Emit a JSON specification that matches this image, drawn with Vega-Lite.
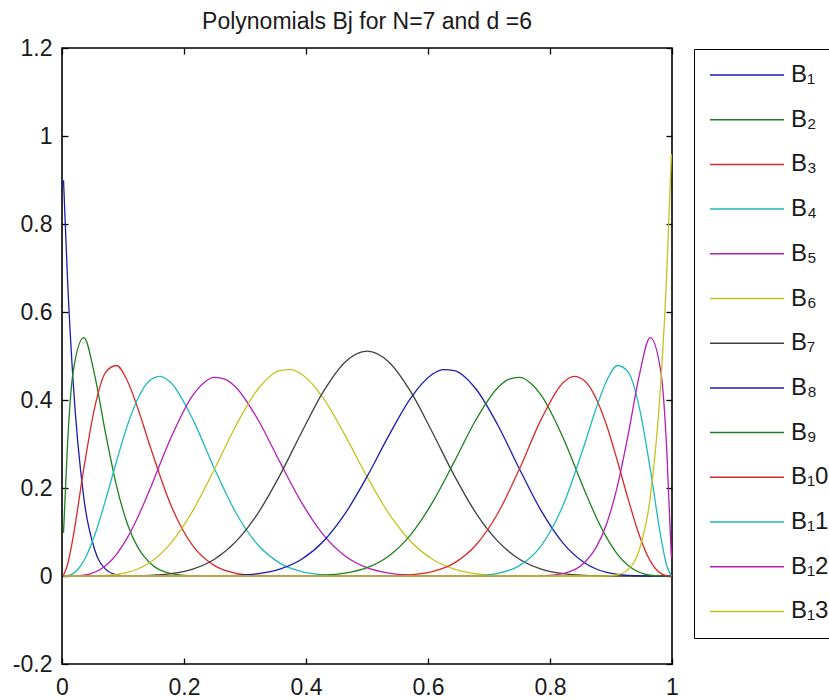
{
  "$schema": "https://vega.github.io/schema/vega-lite/v6.json",
  "width": 610,
  "height": 616,
  "autosize": {"type": "none"},
  "padding": {"left": 62, "top": 48, "right": 157, "bottom": 36},
  "background": "white",
  "title": {"text": "Polynomials Bj for N=7 and d =6", "font": "Liberation Sans", "fontSize": 23, "fontWeight": "normal", "color": "#1a1a1a", "anchor": "middle", "frame": "group", "baseline": "alphabetic", "offset": 8, "dy": 23},
  "config": {"view": {"stroke": "black", "strokeWidth": 1.6}},
  "data": {"values": [
    {"series":"B₁","x":0.0025,"y":0.8995},{"series":"B₁","x":0.0089,"y":0.6789},{"series":"B₁","x":0.0179,"y":0.4488},{"series":"B₁","x":0.0357,"y":0.178},{"series":"B₁","x":0.0536,"y":0.0596},{"series":"B₁","x":0.0714,"y":0.0156},{"series":"B₁","x":0.0893,"y":0.0028},{"series":"B₁","x":0.1071,"y":0.0002},{"series":"B₁","x":0.125,"y":0},{"series":"B₁","x":0.999,"y":0},
    {"series":"B₂","x":0.0025,"y":0.0983},{"series":"B₂","x":0.0089,"y":0.2952},{"series":"B₂","x":0.0179,"y":0.4603},{"series":"B₂","x":0.0357,"y":0.5416},{"series":"B₂","x":0.0536,"y":0.4562},{"series":"B₂","x":0.0714,"y":0.3247},{"series":"B₂","x":0.0893,"y":0.2056},{"series":"B₂","x":0.1071,"y":0.1187},{"series":"B₂","x":0.125,"y":0.0633},{"series":"B₂","x":0.1429,"y":0.0313},{"series":"B₂","x":0.1786,"y":0.0056},{"series":"B₂","x":0.2143,"y":0.0005},{"series":"B₂","x":0.25,"y":0},{"series":"B₂","x":0.999,"y":0},
    {"series":"B₃","x":0.0025,"y":0.0022},{"series":"B₃","x":0.0089,"y":0.0251},{"series":"B₃","x":0.0179,"y":0.0855},{"series":"B₃","x":0.0357,"y":0.244},{"series":"B₃","x":0.0536,"y":0.3828},{"series":"B₃","x":0.0714,"y":0.4626},{"series":"B₃","x":0.0893,"y":0.4784},{"series":"B₃","x":0.1071,"y":0.4436},{"series":"B₃","x":0.125,"y":0.3783},{"series":"B₃","x":0.1429,"y":0.3013},{"series":"B₃","x":0.1786,"y":0.1606},{"series":"B₃","x":0.2143,"y":0.0688},{"series":"B₃","x":0.25,"y":0.0235},{"series":"B₃","x":0.2857,"y":0.0062},{"series":"B₃","x":0.3214,"y":0.0011},{"series":"B₃","x":0.3571,"y":0.0001},{"series":"B₃","x":0.3929,"y":0},{"series":"B₃","x":0.999,"y":0},
    {"series":"B₄","x":0.0025,"y":0},{"series":"B₄","x":0.0089,"y":0.0007},{"series":"B₄","x":0.0179,"y":0.0053},{"series":"B₄","x":0.0357,"y":0.0344},{"series":"B₄","x":0.0536,"y":0.0926},{"series":"B₄","x":0.0714,"y":0.1724},{"series":"B₄","x":0.0893,"y":0.2603},{"series":"B₄","x":0.1071,"y":0.3419},{"series":"B₄","x":0.125,"y":0.4052},{"series":"B₄","x":0.1429,"y":0.4432},{"series":"B₄","x":0.1607,"y":0.4538},{"series":"B₄","x":0.1786,"y":0.4394},{"series":"B₄","x":0.2143,"y":0.3565},{"series":"B₄","x":0.25,"y":0.2437},{"series":"B₄","x":0.2857,"y":0.142},{"series":"B₄","x":0.3214,"y":0.0704},{"series":"B₄","x":0.3571,"y":0.0293},{"series":"B₄","x":0.3929,"y":0.0099},{"series":"B₄","x":0.4286,"y":0.0026},{"series":"B₄","x":0.4643,"y":0.0005},{"series":"B₄","x":0.5,"y":0},{"series":"B₄","x":0.999,"y":0},
    {"series":"B₅","x":0.0025,"y":0},{"series":"B₅","x":0.0179,"y":0.0001},{"series":"B₅","x":0.0357,"y":0.0017},{"series":"B₅","x":0.0536,"y":0.0085},{"series":"B₅","x":0.0714,"y":0.0234},{"series":"B₅","x":0.0893,"y":0.0492},{"series":"B₅","x":0.1071,"y":0.0871},{"series":"B₅","x":0.125,"y":0.136},{"series":"B₅","x":0.1429,"y":0.1933},{"series":"B₅","x":0.1786,"y":0.3144},{"series":"B₅","x":0.2143,"y":0.4106},{"series":"B₅","x":0.2321,"y":0.4389},{"series":"B₅","x":0.25,"y":0.4512},{"series":"B₅","x":0.2679,"y":0.4471},{"series":"B₅","x":0.2857,"y":0.428},{"series":"B₅","x":0.3214,"y":0.3551},{"series":"B₅","x":0.3571,"y":0.2593},{"series":"B₅","x":0.3929,"y":0.1666},{"series":"B₅","x":0.4286,"y":0.0936},{"series":"B₅","x":0.4643,"y":0.0456},{"series":"B₅","x":0.5,"y":0.0188},{"series":"B₅","x":0.5357,"y":0.0064},{"series":"B₅","x":0.5714,"y":0.0017},{"series":"B₅","x":0.6071,"y":0.0003},{"series":"B₅","x":0.6429,"y":0},{"series":"B₅","x":0.999,"y":0},
    {"series":"B₆","x":0.0025,"y":0},{"series":"B₆","x":0.0357,"y":0},{"series":"B₆","x":0.0536,"y":0.0003},{"series":"B₆","x":0.0714,"y":0.0012},{"series":"B₆","x":0.0893,"y":0.0036},{"series":"B₆","x":0.1071,"y":0.0082},{"series":"B₆","x":0.125,"y":0.0165},{"series":"B₆","x":0.1429,"y":0.0296},{"series":"B₆","x":0.1786,"y":0.0747},{"series":"B₆","x":0.2143,"y":0.1479},{"series":"B₆","x":0.25,"y":0.2431},{"series":"B₆","x":0.2857,"y":0.3433},{"series":"B₆","x":0.3214,"y":0.425},{"series":"B₆","x":0.3571,"y":0.4668},{"series":"B₆","x":0.375,"y":0.469},{"series":"B₆","x":0.3929,"y":0.4584},{"series":"B₆","x":0.4286,"y":0.4038},{"series":"B₆","x":0.4643,"y":0.319},{"series":"B₆","x":0.5,"y":0.2257},{"series":"B₆","x":0.5357,"y":0.1421},{"series":"B₆","x":0.5714,"y":0.0789},{"series":"B₆","x":0.6071,"y":0.0381},{"series":"B₆","x":0.6429,"y":0.0157},{"series":"B₆","x":0.6786,"y":0.0053},{"series":"B₆","x":0.7143,"y":0.0014},{"series":"B₆","x":0.75,"y":0.0002},{"series":"B₆","x":0.7857,"y":0},{"series":"B₆","x":0.999,"y":0},
    {"series":"B₇","x":0.0025,"y":0},{"series":"B₇","x":0.0714,"y":0},{"series":"B₇","x":0.0893,"y":0.0001},{"series":"B₇","x":0.1071,"y":0.0002},{"series":"B₇","x":0.125,"y":0.0006},{"series":"B₇","x":0.1429,"y":0.0014},{"series":"B₇","x":0.1786,"y":0.0053},{"series":"B₇","x":0.2143,"y":0.0157},{"series":"B₇","x":0.25,"y":0.0382},{"series":"B₇","x":0.2857,"y":0.0792},{"series":"B₇","x":0.3214,"y":0.1431},{"series":"B₇","x":0.3571,"y":0.2288},{"series":"B₇","x":0.3929,"y":0.3266},{"series":"B₇","x":0.4286,"y":0.4194},{"series":"B₇","x":0.4643,"y":0.4865},{"series":"B₇","x":0.5,"y":0.511},{"series":"B₇","x":0.5357,"y":0.4865},{"series":"B₇","x":0.5714,"y":0.4194},{"series":"B₇","x":0.6071,"y":0.3266},{"series":"B₇","x":0.6429,"y":0.2288},{"series":"B₇","x":0.6786,"y":0.1431},{"series":"B₇","x":0.7143,"y":0.0792},{"series":"B₇","x":0.75,"y":0.0382},{"series":"B₇","x":0.7857,"y":0.0157},{"series":"B₇","x":0.8214,"y":0.0053},{"series":"B₇","x":0.8571,"y":0.0014},{"series":"B₇","x":0.875,"y":0.0006},{"series":"B₇","x":0.8929,"y":0.0002},{"series":"B₇","x":0.9107,"y":0.0001},{"series":"B₇","x":0.9286,"y":0},{"series":"B₇","x":0.999,"y":0},
    {"series":"B₈","x":0.0025,"y":0},{"series":"B₈","x":0.2143,"y":0},{"series":"B₈","x":0.25,"y":0.0002},{"series":"B₈","x":0.2857,"y":0.0014},{"series":"B₈","x":0.3214,"y":0.0053},{"series":"B₈","x":0.3571,"y":0.0157},{"series":"B₈","x":0.3929,"y":0.0381},{"series":"B₈","x":0.4286,"y":0.0789},{"series":"B₈","x":0.4643,"y":0.1421},{"series":"B₈","x":0.5,"y":0.2257},{"series":"B₈","x":0.5357,"y":0.319},{"series":"B₈","x":0.5714,"y":0.4038},{"series":"B₈","x":0.6071,"y":0.4584},{"series":"B₈","x":0.625,"y":0.469},{"series":"B₈","x":0.6429,"y":0.4668},{"series":"B₈","x":0.6786,"y":0.425},{"series":"B₈","x":0.7143,"y":0.3433},{"series":"B₈","x":0.75,"y":0.2431},{"series":"B₈","x":0.7857,"y":0.1479},{"series":"B₈","x":0.8214,"y":0.0747},{"series":"B₈","x":0.8571,"y":0.0296},{"series":"B₈","x":0.875,"y":0.0165},{"series":"B₈","x":0.8929,"y":0.0082},{"series":"B₈","x":0.9107,"y":0.0036},{"series":"B₈","x":0.9286,"y":0.0012},{"series":"B₈","x":0.9464,"y":0.0003},{"series":"B₈","x":0.9643,"y":0},{"series":"B₈","x":0.999,"y":0},
    {"series":"B₉","x":0.0025,"y":0},{"series":"B₉","x":0.3571,"y":0},{"series":"B₉","x":0.3929,"y":0.0003},{"series":"B₉","x":0.4286,"y":0.0017},{"series":"B₉","x":0.4643,"y":0.0064},{"series":"B₉","x":0.5,"y":0.0188},{"series":"B₉","x":0.5357,"y":0.0456},{"series":"B₉","x":0.5714,"y":0.0936},{"series":"B₉","x":0.6071,"y":0.1666},{"series":"B₉","x":0.6429,"y":0.2593},{"series":"B₉","x":0.6786,"y":0.3551},{"series":"B₉","x":0.7143,"y":0.428},{"series":"B₉","x":0.7321,"y":0.4471},{"series":"B₉","x":0.75,"y":0.4512},{"series":"B₉","x":0.7679,"y":0.4389},{"series":"B₉","x":0.7857,"y":0.4106},{"series":"B₉","x":0.8214,"y":0.3144},{"series":"B₉","x":0.8571,"y":0.1933},{"series":"B₉","x":0.875,"y":0.136},{"series":"B₉","x":0.8929,"y":0.0871},{"series":"B₉","x":0.9107,"y":0.0492},{"series":"B₉","x":0.9286,"y":0.0234},{"series":"B₉","x":0.9464,"y":0.0085},{"series":"B₉","x":0.9643,"y":0.0017},{"series":"B₉","x":0.9821,"y":0.0001},{"series":"B₉","x":0.9911,"y":0},{"series":"B₉","x":0.999,"y":0},
    {"series":"B₁0","x":0.0025,"y":0},{"series":"B₁0","x":0.5,"y":0},{"series":"B₁0","x":0.5357,"y":0.0005},{"series":"B₁0","x":0.5714,"y":0.0026},{"series":"B₁0","x":0.6071,"y":0.0099},{"series":"B₁0","x":0.6429,"y":0.0293},{"series":"B₁0","x":0.6786,"y":0.0704},{"series":"B₁0","x":0.7143,"y":0.142},{"series":"B₁0","x":0.75,"y":0.2437},{"series":"B₁0","x":0.7857,"y":0.3565},{"series":"B₁0","x":0.8214,"y":0.4394},{"series":"B₁0","x":0.8393,"y":0.4538},{"series":"B₁0","x":0.8571,"y":0.4432},{"series":"B₁0","x":0.875,"y":0.4052},{"series":"B₁0","x":0.8929,"y":0.3419},{"series":"B₁0","x":0.9107,"y":0.2603},{"series":"B₁0","x":0.9286,"y":0.1724},{"series":"B₁0","x":0.9464,"y":0.0926},{"series":"B₁0","x":0.9643,"y":0.0344},{"series":"B₁0","x":0.9821,"y":0.0053},{"series":"B₁0","x":0.9911,"y":0.0007},{"series":"B₁0","x":0.999,"y":0},
    {"series":"B₁1","x":0.0025,"y":0},{"series":"B₁1","x":0.6071,"y":0},{"series":"B₁1","x":0.6429,"y":0.0001},{"series":"B₁1","x":0.6786,"y":0.0011},{"series":"B₁1","x":0.7143,"y":0.0062},{"series":"B₁1","x":0.75,"y":0.0235},{"series":"B₁1","x":0.7857,"y":0.0688},{"series":"B₁1","x":0.8214,"y":0.1606},{"series":"B₁1","x":0.8571,"y":0.3013},{"series":"B₁1","x":0.875,"y":0.3783},{"series":"B₁1","x":0.8929,"y":0.4436},{"series":"B₁1","x":0.9107,"y":0.4784},{"series":"B₁1","x":0.9286,"y":0.4626},{"series":"B₁1","x":0.9464,"y":0.3828},{"series":"B₁1","x":0.9643,"y":0.244},{"series":"B₁1","x":0.9821,"y":0.0855},{"series":"B₁1","x":0.9911,"y":0.0251},{"series":"B₁1","x":0.999,"y":0.0003},
    {"series":"B₁2","x":0.0025,"y":0},{"series":"B₁2","x":0.75,"y":0},{"series":"B₁2","x":0.7857,"y":0.0005},{"series":"B₁2","x":0.8214,"y":0.0056},{"series":"B₁2","x":0.8571,"y":0.0313},{"series":"B₁2","x":0.875,"y":0.0633},{"series":"B₁2","x":0.8929,"y":0.1187},{"series":"B₁2","x":0.9107,"y":0.2056},{"series":"B₁2","x":0.9286,"y":0.3247},{"series":"B₁2","x":0.9464,"y":0.4562},{"series":"B₁2","x":0.9643,"y":0.5416},{"series":"B₁2","x":0.9821,"y":0.4603},{"series":"B₁2","x":0.9911,"y":0.2952},{"series":"B₁2","x":0.999,"y":0.0409},
    {"series":"B₁3","x":0.0025,"y":0},{"series":"B₁3","x":0.875,"y":0},{"series":"B₁3","x":0.8929,"y":0.0002},{"series":"B₁3","x":0.9107,"y":0.0028},{"series":"B₁3","x":0.9286,"y":0.0156},{"series":"B₁3","x":0.9464,"y":0.0596},{"series":"B₁3","x":0.9643,"y":0.178},{"series":"B₁3","x":0.9821,"y":0.4488},{"series":"B₁3","x":0.9911,"y":0.6789},{"series":"B₁3","x":0.999,"y":0.9587}
  ]},
  "layer": [
    {
      "mark": {"type": "line", "strokeWidth": 1.3, "interpolate": "monotone", "clip": true},
      "encoding": {
        "x": {"field": "x", "type": "quantitative", "scale": {"domain": [0, 1], "nice": false, "zero": false},
          "axis": {"orient": "bottom", "title": null, "values": [0, 0.2, 0.4, 0.6, 0.8, 1], "format": "~g", "labelExpr": "replace(datum.label, '−', '-')", "grid": false, "domain": false, "tickSize": -6, "tickWidth": 1.3, "tickColor": "black", "labelPadding": 18, "labelFont": "Liberation Sans", "labelFontSize": 23, "labelColor": "#1a1a1a", "labelFlush": false, "labelOverlap": false}},
        "y": {"field": "y", "type": "quantitative", "scale": {"domain": [-0.2, 1.2], "nice": false, "zero": false},
          "axis": {"orient": "left", "title": null, "values": [-0.2, 0, 0.2, 0.4, 0.6, 0.8, 1, 1.2], "format": "~g", "labelExpr": "replace(datum.label, '−', '-')", "grid": false, "domain": false, "tickSize": -6, "tickWidth": 1.3, "tickColor": "black", "labelPadding": 16, "labelFont": "Liberation Sans", "labelFontSize": 23, "labelColor": "#1a1a1a", "labelFlush": false, "labelOverlap": false}},
        "color": {"field": "series", "type": "nominal", "sort": null,
          "scale": {"domain": ["B₁","B₂","B₃","B₄","B₅","B₆","B₇","B₈","B₉","B₁0","B₁1","B₁2","B₁3"],
                    "range": ["#1c1cb0","#1e801e","#d82a2a","#1fbaba","#b41fb4","#c4c420","#404040","#1c1cb0","#1e801e","#d82a2a","#1fbaba","#b41fb4","#c4c420"]},
          "legend": {"orient": "none", "legendX": 632, "legendY": 1, "title": null, "symbolType": "M-3.7,0H3.7", "symbolSize": 400, "symbolOffset": 27, "symbolStrokeWidth": 1.5, "labelFont": "Liberation Sans", "labelFontSize": 24, "labelColor": "#1a1a1a", "labelOffset": 32, "rowPadding": 20.7, "padding": 14, "strokeColor": "black", "fillColor": "white", "cornerRadius": 0, "labelLimit": 300, "symbolLimit": 0}}
      }
    },
    {
      "mark": {"type": "line", "opacity": 0},
      "encoding": {
        "x": {"field": "x", "type": "quantitative", "axis": {"orient": "top", "title": null, "values": [0, 0.2, 0.4, 0.6, 0.8, 1], "labels": false, "grid": false, "domain": false, "tickSize": -6, "tickWidth": 1.3, "tickColor": "black"}},
        "y": {"field": "y", "type": "quantitative", "axis": {"orient": "right", "title": null, "values": [-0.2, 0, 0.2, 0.4, 0.6, 0.8, 1, 1.2], "labels": false, "grid": false, "domain": false, "tickSize": -6, "tickWidth": 1.3, "tickColor": "black"}}
      }
    }
  ],
  "resolve": {"axis": {"x": "independent", "y": "independent"}}
}
